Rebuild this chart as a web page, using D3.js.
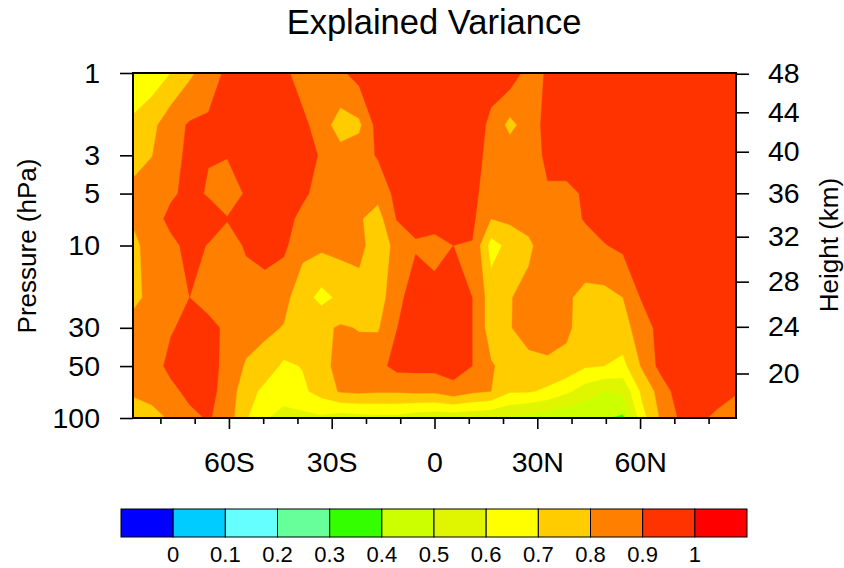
<!DOCTYPE html>
<html>
<head>
<meta charset="utf-8">
<script src="https://cdn.jsdelivr.net/npm/d3@7/dist/d3.min.js"></script>
<style>
  body { margin: 0; background: #fff; }
  svg { font-family: "Liberation Sans", Arial, Helvetica, sans-serif; }
</style>
</head>
<body>
<svg id="chart" width="844" height="568"></svg>
<script>
// grid: latitude columns (deg) and pressure levels (hPa, top to bottom)
const lats = d3.range(33).map(i => -88 + i * 5.5);
const levels = [1, 2, 3, 5, 7, 10, 20, 30, 50, 70, 100];

// explained variance, one row per pressure level
const v1   = [0.62,0.64,0.70,0.78,0.85,0.92,0.93,0.95,0.93,0.84,0.85,0.88,0.94,0.95,0.95,0.95,0.95,0.95,0.95,0.94,0.96,0.86,0.91,0.95,0.96,0.96,0.97,0.97,0.97,0.97,0.97,0.97,0.97];
const v2   = [0.72,0.773,0.86,0.91,0.916,0.93,0.94,0.96,0.96,0.93,0.84,0.76,0.78,0.94,0.95,0.95,0.95,0.95,0.95,0.88,0.77,0.85,0.93,0.95,0.96,0.96,0.97,0.97,0.97,0.97,0.97,0.97,0.97];
const v3   = [0.756,0.798,0.85,0.93,0.905,0.905,0.93,0.95,0.96,0.94,0.89,0.83,0.85,0.91,0.94,0.95,0.95,0.95,0.95,0.86,0.86,0.85,0.92,0.94,0.95,0.96,0.96,0.97,0.97,0.97,0.97,0.97,0.97];
const v5   = [0.83,0.84,0.882,0.93,0.89,0.85,0.91,0.95,0.95,0.92,0.86,0.86,0.86,0.83,0.93,0.94,0.95,0.95,0.93,0.84,0.85,0.85,0.89,0.88,0.91,0.95,0.96,0.96,0.97,0.97,0.97,0.97,0.97];
const v7   = [0.821,0.85,0.93,0.93,0.95,0.905,0.93,0.94,0.94,0.87,0.85,0.85,0.81,0.76,0.905,0.93,0.94,0.94,0.92,0.80,0.82,0.84,0.86,0.85,0.91,0.94,0.95,0.96,0.97,0.97,0.97,0.97,0.97];
const v10  = [0.75,0.88,0.873,0.93,0.895,0.86,0.91,0.93,0.92,0.83,0.82,0.83,0.83,0.74,0.83,0.89,0.87,0.90,0.895,0.66,0.73,0.78,0.86,0.85,0.85,0.895,0.92,0.94,0.96,0.97,0.97,0.97,0.97];
const v20  = [0.771,0.83,0.85,0.90,0.86,0.85,0.86,0.866,0.83,0.74,0.67,0.72,0.76,0.75,0.87,0.95,0.93,0.94,0.90,0.75,0.795,0.83,0.85,0.81,0.78,0.77,0.80,0.91,0.95,0.96,0.97,0.97,0.97];
const v30  = [0.84,0.85,0.89,0.93,0.93,0.88,0.84,0.82,0.795,0.75,0.78,0.81,0.795,0.79,0.898,0.95,0.96,0.96,0.90,0.75,0.795,0.84,0.85,0.82,0.75,0.75,0.77,0.84,0.94,0.95,0.96,0.96,0.96];
const v50  = [0.85,0.85,0.93,0.95,0.95,0.86,0.79,0.76,0.68,0.705,0.76,0.84,0.84,0.87,0.93,0.93,0.93,0.95,0.90,0.81,0.76,0.77,0.78,0.77,0.71,0.70,0.67,0.81,0.93,0.95,0.96,0.95,0.95];
const v70  = [0.813,0.83,0.87,0.93,0.94,0.85,0.75,0.67,0.65,0.68,0.74,0.81,0.82,0.81,0.81,0.82,0.82,0.86,0.82,0.80,0.71,0.71,0.68,0.62,0.55,0.50,0.52,0.72,0.84,0.95,0.95,0.94,0.91];
const v100 = [0.75,0.772,0.81,0.87,0.91,0.85,0.71,0.61,0.56,0.57,0.58,0.55,0.56,0.57,0.57,0.54,0.53,0.53,0.52,0.51,0.49,0.46,0.43,0.41,0.41,0.41,0.38,0.66,0.81,0.91,0.92,0.88,0.84];
const rows = [v1, v2, v3, v5, v7, v10, v20, v30, v50, v70, v100];

// axes
const presTicks = [1, 3, 5, 10, 30, 50, 100];
const latTicks = [-60, -30, 0, 30, 60];
const latLabels = ["60S", "30S", "0", "30N", "60N"];
const latMinor = [-80, -70, -50, -40, -20, -10, 10, 20, 40, 50, 70, 80];
const heightTicks = [48, 44, 40, 36, 32, 28, 24, 20];
const heightTickPres = [1.01, 1.69, 2.86, 4.98, 8.89, 16.2, 29.6, 55.2];

// contour levels and fill colours (one more colour than levels)
const cnLevels = [0, 0.1, 0.2, 0.3, 0.4, 0.5, 0.6, 0.7, 0.8, 0.9, 1];
const cnColors = ["#0000ff", "#00ccff", "#66ffff", "#66ff99", "#33ff00", "#ccff00",
                  "#e0f500", "#ffff00", "#ffcc00", "#ff8000", "#ff3300", "#ff0000"];

const svg = d3.select("#chart");
const plot = { left: 133, right: 736, top: 73, bottom: 418 };

const x = d3.scaleLinear().domain([-88, 88]).range([plot.left, plot.right]);
const y = d3.scaleLog().domain([1, 100]).range([plot.top, plot.bottom]);

// title
svg.append("text")
  .attr("x", 434).attr("y", 34)
  .attr("text-anchor", "middle")
  .style("font-size", "34.5px")
  .text("Explained Variance");

// contour fill
const nx = lats.length, ny = levels.length;
const values = [];
rows.forEach(r => r.forEach(v => values.push(v)));

// grid coords -> pixels (d3.contours puts sample i at i + 0.5)
function gridX(g) {
  const f = Math.max(0, Math.min(nx - 1, g - 0.5));
  const i = Math.min(nx - 2, Math.floor(f));
  return x(lats[i] + (lats[i + 1] - lats[i]) * (f - i));
}
function gridY(g) {
  const f = Math.max(0, Math.min(ny - 1, g - 0.5));
  const j = Math.min(ny - 2, Math.floor(f));
  const y0 = y(levels[j]), y1 = y(levels[j + 1]);
  return y0 + (y1 - y0) * (f - j);
}
const proj = d3.geoTransform({
  point: function(gx, gy) { this.stream.point(gridX(gx), gridY(gy)); }
});
const path = d3.geoPath(proj);

const contours = d3.contours().size([nx, ny]).thresholds(cnLevels)(values);

svg.append("defs").append("clipPath").attr("id", "clip")
  .append("rect")
  .attr("x", plot.left).attr("y", plot.top)
  .attr("width", plot.right - plot.left).attr("height", plot.bottom - plot.top);

const g = svg.append("g").attr("clip-path", "url(#clip)");
g.append("rect")
  .attr("x", plot.left).attr("y", plot.top)
  .attr("width", plot.right - plot.left).attr("height", plot.bottom - plot.top)
  .attr("fill", cnColors[0]);
g.selectAll("path.band")
  .data(contours)
  .join("path")
  .attr("class", "band")
  .attr("d", path)
  .attr("fill", (d, i) => cnColors[i + 1])
  .attr("stroke", (d, i) => cnColors[i + 1])
  .attr("stroke-width", 0.4);

// axes
function styleAxis(sel) {
  sel.select(".domain").remove();
  sel.selectAll(".tick line").attr("stroke", "#000").attr("stroke-width", 1.6);
  sel.selectAll(".tick text").attr("fill", "#000").style("font-size", "28.5px")
    .style("font-family", "'Liberation Sans', Arial, sans-serif");
}

svg.append("g")
  .attr("transform", `translate(${plot.left},0)`)
  .call(d3.axisLeft(y).tickValues(presTicks).tickFormat(d3.format("d"))
    .tickSize(13).tickPadding(20))
  .call(styleAxis);

svg.append("g")
  .attr("transform", `translate(${plot.right},0)`)
  .call(d3.axisRight(y).tickValues(heightTickPres)
    .tickFormat((d, i) => heightTicks[i]).tickSize(13).tickPadding(19))
  .call(styleAxis);

svg.append("g")
  .attr("transform", `translate(0,${plot.bottom})`)
  .call(d3.axisBottom(x).tickValues(latMinor).tickFormat("").tickSize(6))
  .call(styleAxis);

svg.append("g")
  .attr("transform", `translate(0,${plot.bottom})`)
  .call(d3.axisBottom(x).tickValues(latTicks)
    .tickFormat((d, i) => latLabels[i]).tickSize(11).tickPadding(23))
  .call(styleAxis);

// frame
svg.append("rect")
  .attr("x", plot.left).attr("y", plot.top)
  .attr("width", plot.right - plot.left).attr("height", plot.bottom - plot.top)
  .attr("fill", "none").attr("stroke", "#000").attr("stroke-width", 2);

// axis titles
svg.append("text")
  .attr("transform", "translate(36,246) rotate(-90)")
  .attr("text-anchor", "middle")
  .style("font-size", "26px")
  .text("Pressure (hPa)");

svg.append("text")
  .attr("transform", "translate(838,245) rotate(-90)")
  .attr("text-anchor", "middle")
  .style("font-size", "26px")
  .text("Height (km)");

// colour bar
const cb = { left: 121, right: 747, top: 509, height: 28 };
const cbX = d3.scaleLinear().domain([0, cnColors.length]).range([cb.left, cb.right]);
const cbG = svg.append("g");
cbG.selectAll("rect")
  .data(cnColors)
  .join("rect")
  .attr("x", (d, i) => cbX(i))
  .attr("y", cb.top)
  .attr("width", cbX(1) - cbX(0))
  .attr("height", cb.height)
  .attr("fill", d => d)
  .attr("stroke", "#000")
  .attr("stroke-width", 1);

cbG.selectAll("text")
  .data(cnLevels)
  .join("text")
  .attr("x", (d, i) => cbX(i + 1))
  .attr("y", cb.top + cb.height + 25)
  .attr("text-anchor", "middle")
  .style("font-size", "22px")
  .text(d => d);
</script>
</body>
</html>
